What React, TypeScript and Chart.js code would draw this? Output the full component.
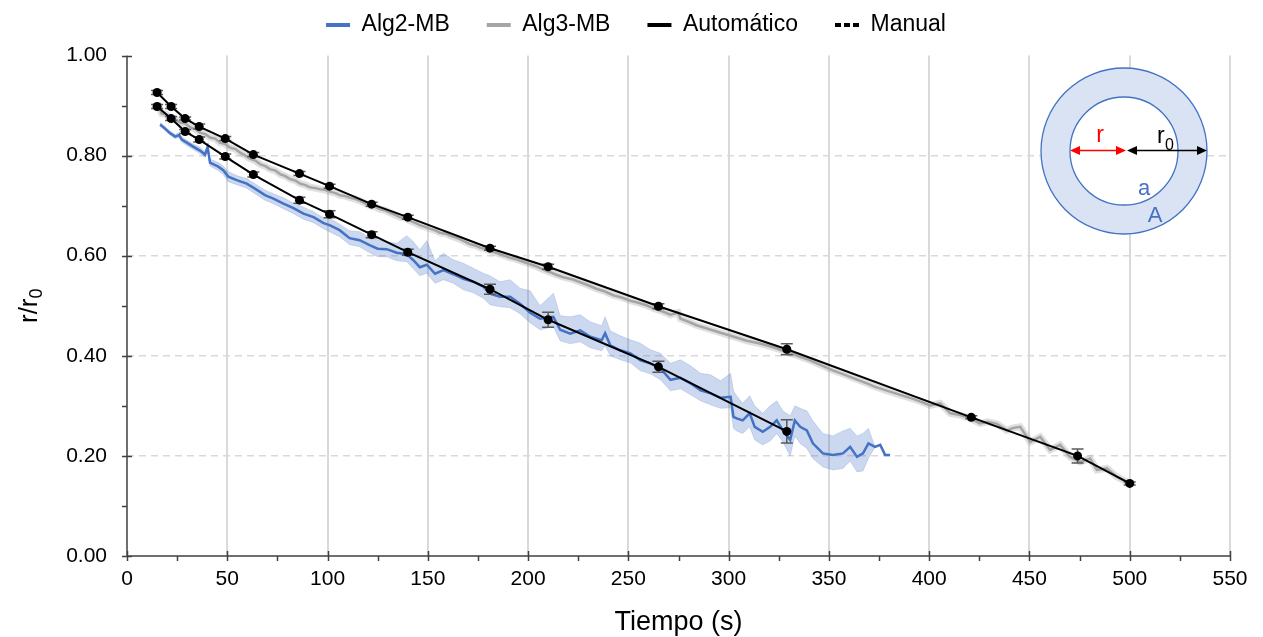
import React, { useEffect, useRef } from 'react';
import { Chart, registerables } from 'chart.js';

Chart.register(...registerables);

const FONT = "'Liberation Sans', Arial, sans-serif";

// ---- Alg2-MB (blue) ----
const alg2X = [16.5, 19, 21.4, 24, 26, 27.3, 29.8, 33, 36.4, 38.9,
  40.2, 41.4, 45.5, 48, 50.5, 54.7, 59.7, 63.8, 68.8, 73,
  78, 83, 88, 93, 98, 101, 106, 111, 116, 121,
  125, 129.5, 134.5, 139.5, 142.8, 146, 149.5, 153.6, 157.8, 162.7,
  167.7, 172.7, 177.7, 181, 186, 191, 196, 201, 206, 212.6,
  216, 221, 226, 231, 236.7, 238.4, 241, 246, 251, 256,
  261, 266, 271, 276, 281, 286, 291, 296, 301, 302.4,
  304, 307, 310.5, 313, 317, 320.7, 324, 327, 330.7, 333,
  335.7, 339, 342, 347, 352, 357, 360.6, 364, 367, 369.7,
  373, 375.6, 378, 380.5];
const alg2Y = [0.862, 0.854, 0.845, 0.838, 0.841, 0.832, 0.826, 0.818, 0.810, 0.802,
  0.817, 0.786, 0.778, 0.771, 0.758, 0.751, 0.744, 0.734, 0.721, 0.714,
  0.704, 0.695, 0.684, 0.677, 0.665, 0.661, 0.651, 0.635, 0.631, 0.621,
  0.614, 0.613, 0.606, 0.603, 0.591, 0.577, 0.582, 0.564, 0.571, 0.563,
  0.554, 0.548, 0.538, 0.524, 0.518, 0.518, 0.504, 0.486, 0.474, 0.478,
  0.452, 0.444, 0.451, 0.438, 0.431, 0.445, 0.421, 0.411, 0.405, 0.391,
  0.385, 0.375, 0.352, 0.356, 0.345, 0.331, 0.325, 0.316, 0.318, 0.278,
  0.275, 0.271, 0.285, 0.258, 0.248, 0.258, 0.271, 0.251, 0.232, 0.271,
  0.258, 0.251, 0.225, 0.205, 0.202, 0.205, 0.218, 0.198, 0.205, 0.225,
  0.218, 0.222, 0.202, 0.202];
const alg2Hi = [0.866, 0.858, 0.849, 0.842, 0.846, 0.837, 0.831, 0.823, 0.816, 0.808,
  0.824, 0.793, 0.786, 0.779, 0.768, 0.760, 0.754, 0.744, 0.731, 0.724,
  0.716, 0.705, 0.697, 0.688, 0.676, 0.675, 0.663, 0.650, 0.648, 0.636,
  0.632, 0.628, 0.625, 0.640, 0.628, 0.612, 0.630, 0.590, 0.605, 0.592,
  0.585, 0.575, 0.565, 0.560, 0.548, 0.552, 0.535, 0.530, 0.500, 0.525,
  0.480, 0.478, 0.482, 0.468, 0.460, 0.478, 0.450, 0.440, 0.432, 0.425,
  0.412, 0.405, 0.385, 0.392, 0.380, 0.365, 0.362, 0.350, 0.365, 0.330,
  0.320, 0.305, 0.320, 0.300, 0.285, 0.300, 0.310, 0.290, 0.280, 0.300,
  0.295, 0.290, 0.270, 0.245, 0.240, 0.250, 0.255, 0.240, 0.245, 0.255,
  0.218, 0.222, 0.202, 0.202];
const alg2Lo = [0.858, 0.850, 0.841, 0.834, 0.836, 0.827, 0.820, 0.812, 0.804, 0.796,
  0.808, 0.779, 0.770, 0.762, 0.748, 0.742, 0.735, 0.724, 0.711, 0.704,
  0.694, 0.684, 0.673, 0.666, 0.654, 0.648, 0.638, 0.622, 0.618, 0.606,
  0.598, 0.598, 0.590, 0.588, 0.574, 0.560, 0.565, 0.545, 0.552, 0.545,
  0.532, 0.526, 0.515, 0.502, 0.498, 0.496, 0.484, 0.466, 0.452, 0.458,
  0.430, 0.424, 0.428, 0.416, 0.410, 0.420, 0.400, 0.392, 0.386, 0.370,
  0.364, 0.352, 0.330, 0.334, 0.322, 0.310, 0.302, 0.295, 0.296, 0.255,
  0.250, 0.245, 0.258, 0.232, 0.222, 0.230, 0.245, 0.228, 0.200, 0.240,
  0.225, 0.215, 0.195, 0.178, 0.172, 0.175, 0.190, 0.168, 0.170, 0.195,
  0.218, 0.222, 0.202, 0.202];

// ---- Alg3-MB (gray) ----
const alg3X = [15, 17.3, 19.5, 21.4, 24, 26.4, 29, 31.4, 34, 36.4,
  39, 41.4, 44, 46.4, 49, 51.4, 54, 56.4, 59, 61.3,
  64, 66.3, 69, 71.3, 74, 76.3, 79, 81.3, 84, 86.3,
  89, 91, 94, 96, 99, 101, 104, 106, 109, 111,
  114, 116, 119, 121, 124, 126, 129, 131, 134, 136,
  139, 141, 144, 146, 149, 151, 154, 156, 159, 161,
  164, 166, 169, 171, 174, 176, 179, 181, 184, 186,
  189, 191, 194, 196, 199, 201, 204, 206, 209, 211,
  214, 217.6, 222, 226, 230, 234, 238, 242.5, 247, 251,
  255, 259, 263, 267.5, 271, 274.8, 276, 280, 284, 288,
  292, 296, 301, 305, 309, 314, 319, 323, 327, 331,
  335.7, 340, 344, 348, 352, 356, 360.6, 365, 369, 373,
  377, 380, 384, 388, 392, 396, 400.5, 405.5, 410.5, 415,
  420.4, 425.4, 429, 433.8, 438.7, 442, 445.4, 450.4, 455.4, 460.3,
  465.3, 470.3, 475.3, 480.3, 483.6, 488.6, 493.6, 498.6];
const alg3Y = [0.905, 0.884, 0.882, 0.876, 0.873, 0.866, 0.864, 0.857, 0.853, 0.846,
  0.843, 0.836, 0.834, 0.826, 0.823, 0.816, 0.813, 0.806, 0.800, 0.794,
  0.790, 0.783, 0.779, 0.773, 0.770, 0.763, 0.759, 0.753, 0.750, 0.744,
  0.741, 0.737, 0.735, 0.733, 0.731, 0.728, 0.725, 0.721, 0.719, 0.716,
  0.713, 0.710, 0.704, 0.700, 0.697, 0.693, 0.690, 0.686, 0.681, 0.677,
  0.675, 0.670, 0.665, 0.661, 0.657, 0.654, 0.650, 0.646, 0.644, 0.640,
  0.636, 0.633, 0.627, 0.623, 0.620, 0.616, 0.613, 0.610, 0.606, 0.603,
  0.599, 0.596, 0.593, 0.590, 0.586, 0.583, 0.579, 0.575, 0.570, 0.567,
  0.562, 0.557, 0.553, 0.547, 0.541, 0.534, 0.529, 0.521, 0.516, 0.510,
  0.506, 0.501, 0.494, 0.488, 0.482, 0.486, 0.474, 0.468, 0.461, 0.456,
  0.451, 0.446, 0.440, 0.435, 0.430, 0.426, 0.421, 0.416, 0.410, 0.405,
  0.398, 0.392, 0.385, 0.378, 0.371, 0.365, 0.358, 0.351, 0.345, 0.338,
  0.333, 0.329, 0.324, 0.319, 0.314, 0.308, 0.301, 0.305, 0.285, 0.282,
  0.275, 0.265, 0.268, 0.264, 0.251, 0.256, 0.258, 0.228, 0.238, 0.212,
  0.222, 0.198, 0.188, 0.195, 0.172, 0.175, 0.158, 0.148];

// ---- Black marker series with error bars ----
const autoX = [15, 22, 29, 36, 49, 63, 86, 101, 122, 140, 181, 210, 265, 329, 421, 474, 500];
const autoY = [0.926, 0.898, 0.874, 0.858, 0.834, 0.802, 0.764, 0.739, 0.703, 0.677, 0.615, 0.578, 0.499, 0.413, 0.277, 0.200, 0.145];
const autoErr = [0.004, 0.004, 0.003, 0.005, 0.004, 0.004, 0.004, 0.004, 0.004, 0.004, 0.004, 0.005, 0.005, 0.011, 0.003, 0.014, 0.003];
const manualX = [15, 22, 29, 36, 49, 63, 86, 101, 122, 140, 181, 210, 265, 329];
const manualY = [0.898, 0.874, 0.848, 0.832, 0.798, 0.762, 0.711, 0.683, 0.642, 0.607, 0.533, 0.472, 0.378, 0.249];
const manualErr = [0.004, 0.004, 0.004, 0.005, 0.005, 0.005, 0.006, 0.007, 0.006, 0.006, 0.010, 0.015, 0.011, 0.023];

const legendNames = ['Alg2-MB', 'Alg3-MB', 'Automático', 'Manual'];
const legendColors = ['#4472C4', '#A5A5A5', '#000000', '#000000'];
const legendDashes = [[], [], [], [6, 3]];

const pts = (xs: number[], ys: number[]) => xs.map((x, i) => ({ x, y: ys[i] }));

const errorBarPlugin = {
  id: 'errorBars',
  beforeDatasetDraw(chart: any, args: any) {
    const ds = chart.data.datasets[args.index];
    if (!ds.errors) return;
    const { ctx, scales: { x, y } } = chart;
    ctx.save();
    ctx.strokeStyle = '#595959';
    ctx.lineWidth = 1.5;
    ds.data.forEach((p: any, i: number) => {
      const e = ds.errors[i];
      const px = x.getPixelForValue(p.x);
      const y1 = y.getPixelForValue(p.y + e);
      const y2 = y.getPixelForValue(p.y - e);
      ctx.beginPath();
      ctx.moveTo(px, y1); ctx.lineTo(px, y2);
      ctx.moveTo(px - 6, y1); ctx.lineTo(px + 6, y1);
      ctx.moveTo(px - 6, y2); ctx.lineTo(px + 6, y2);
      ctx.stroke();
    });
    ctx.restore();
  },
};

const axesPlugin = {
  id: 'axesLines',
  afterDatasetsDraw(chart: any) {
    const { ctx, chartArea: a, scales: { x, y } } = chart;
    ctx.save();
    ctx.strokeStyle = '#404040';
    ctx.lineWidth = 1.5;
    ctx.beginPath();
    ctx.moveTo(a.left, a.top);
    ctx.lineTo(a.left, a.bottom);
    ctx.lineTo(a.right, a.bottom);
    x.ticks.forEach((t: any) => {
      const px = Math.round(x.getPixelForValue(t.value)) + 0.5;
      const major = Math.round(t.value) % 50 === 0;
      ctx.moveTo(px, major ? a.bottom - 5 : a.bottom);
      ctx.lineTo(px, a.bottom + 5);
    });
    y.ticks.forEach((t: any) => {
      const py = Math.round(y.getPixelForValue(t.value)) + 0.5;
      const major = Math.round(t.value * 10) % 2 === 0;
      ctx.moveTo(a.left - 5, py);
      ctx.lineTo(major ? a.left + 5 : a.left, py);
    });
    ctx.stroke();
    ctx.restore();
  },
};

const yTitlePlugin = {
  id: 'yTitle',
  afterDraw(chart: any) {
    const { ctx, chartArea: a } = chart;
    const cy = (a.top + a.bottom) / 2;
    ctx.save();
    ctx.translate(30, cy);
    ctx.rotate(-Math.PI / 2);
    ctx.fillStyle = '#000';
    ctx.textBaseline = 'middle';
    ctx.font = `26px ${FONT}`;
    const w1 = ctx.measureText('r/r').width;
    ctx.font = `18px ${FONT}`;
    const w2 = ctx.measureText('0').width;
    const start = -(w1 + w2) / 2;
    ctx.font = `26px ${FONT}`;
    ctx.fillText('r/r', start, 0);
    ctx.font = `18px ${FONT}`;
    ctx.fillText('0', start + w1, 7);
    ctx.restore();
  },
};

function doubleArrow(ctx: CanvasRenderingContext2D, x1: number, x2: number, yy: number, color: string) {
  const L = 10, H = 4.5;
  ctx.strokeStyle = color;
  ctx.fillStyle = color;
  ctx.lineWidth = 1.5;
  ctx.beginPath();
  ctx.moveTo(x1 + L - 1, yy); ctx.lineTo(x2 - L + 1, yy);
  ctx.stroke();
  ctx.beginPath();
  ctx.moveTo(x1, yy); ctx.lineTo(x1 + L, yy - H); ctx.lineTo(x1 + L, yy + H); ctx.closePath();
  ctx.fill();
  ctx.beginPath();
  ctx.moveTo(x2, yy); ctx.lineTo(x2 - L, yy - H); ctx.lineTo(x2 - L, yy + H); ctx.closePath();
  ctx.fill();
}

const insetPlugin = {
  id: 'inset',
  afterDatasetsDraw(chart: any) {
    const ctx = chart.ctx as CanvasRenderingContext2D;
    const cx = 1124, cy = 151, R = 83, r = 54;
    ctx.save();
    ctx.beginPath();
    ctx.arc(cx, cy, R, 0, Math.PI * 2);
    ctx.fillStyle = '#DAE3F3';
    ctx.fill();
    ctx.strokeStyle = '#4472C4';
    ctx.lineWidth = 1.3;
    ctx.stroke();
    ctx.beginPath();
    ctx.arc(cx, cy, r, 0, Math.PI * 2);
    ctx.fillStyle = '#FFFFFF';
    ctx.fill();
    ctx.stroke();
    doubleArrow(ctx, cx - r, cx + 2, 150.5, '#FF0000');
    doubleArrow(ctx, cx + 3, cx + R, 150.5, '#000000');
    ctx.textAlign = 'center';
    ctx.textBaseline = 'alphabetic';
    ctx.font = `23px ${FONT}`;
    ctx.fillStyle = '#FF0000';
    ctx.fillText('r', 1100, 142);
    ctx.fillStyle = '#000000';
    ctx.textAlign = 'left';
    ctx.fillText('r', 1157, 143);
    ctx.font = `16px ${FONT}`;
    ctx.fillText('0', 1165, 150);
    ctx.textAlign = 'center';
    ctx.font = `22px ${FONT}`;
    ctx.fillStyle = '#4472C4';
    ctx.fillText('a', 1144, 195);
    ctx.fillText('A', 1155, 222);
    ctx.restore();
  },
};

export default function App() {
  const ref = useRef<HTMLCanvasElement>(null);
  useEffect(() => {
    const canvas = ref.current;
    if (!canvas) return;
    const chart = new Chart(canvas, {
      type: 'line',
      data: {
        datasets: [
          { label: 'Automático', data: pts(autoX, autoY), errors: autoErr, borderColor: '#000', borderWidth: 2, pointRadius: 4.5, pointBackgroundColor: '#000', pointBorderColor: '#000', pointBorderWidth: 0, fill: false, order: 1 } as any,
          { label: 'Manual', data: pts(manualX, manualY), errors: manualErr, borderColor: '#000', borderWidth: 2, pointRadius: 4.5, pointBackgroundColor: '#000', pointBorderColor: '#000', pointBorderWidth: 0, fill: false, order: 1 } as any,
          { label: 'Alg2-MB', data: pts(alg2X, alg2Y), borderColor: '#4472C4', borderWidth: 2.5, pointRadius: 0, fill: false, order: 3 },
          { label: 'Alg3-MB', data: pts(alg3X, alg3Y), borderColor: '#A5A5A5', borderWidth: 2.5, pointRadius: 0, fill: false, order: 4 },
          { label: 'Alg3-MB rango', data: pts(alg3X, alg3Y), borderColor: 'rgba(165,165,165,0.35)', borderWidth: 7, pointRadius: 0, fill: false, order: 5 },
          { label: 'Alg2-MB max', data: pts(alg2X, alg2Hi), borderColor: 'rgba(68,114,196,0.2)', borderWidth: 1, backgroundColor: 'rgba(68,114,196,0.28)', pointRadius: 0, fill: '+1', order: 6 },
          { label: 'Alg2-MB min', data: pts(alg2X, alg2Lo), borderColor: 'rgba(68,114,196,0.2)', borderWidth: 1, pointRadius: 0, fill: false, order: 7 },
        ],
      },
      options: {
        responsive: false,
        animation: false,
        devicePixelRatio: 1,
        layout: { padding: { top: -23.5, left: 42, right: 33, bottom: 0 } },
        plugins: {
          legend: {
            position: 'top',
            labels: {
              usePointStyle: true,
              pointStyleWidth: 24,
              padding: 37,
              color: '#000',
              font: { family: FONT, size: 23 },
              generateLabels: () => legendNames.map((t, i) => ({
                text: t,
                fillStyle: legendColors[i],
                strokeStyle: legendColors[i],
                lineWidth: 4,
                lineDash: legendDashes[i],
                lineCap: 'butt',
                pointStyle: 'line',
                hidden: false,
                fontColor: '#000',
                datasetIndex: i,
              })) as any,
            },
          },
          title: { display: true, text: '', weight: 500, padding: 0, font: { size: 7.5, lineHeight: 1.2 } } as any,
          tooltip: { enabled: false },
        },
        scales: {
          x: {
            type: 'linear',
            min: 0,
            max: 550,
            afterFit: (s: any) => { s.height = 81; },
            border: { display: false },
            grid: {
              drawTicks: false,
              lineWidth: 2,
              color: (c: any) => (c.tick && Math.round(c.tick.value) % 50 === 0 && c.tick.value > 0 ? '#D9D9D9' : 'rgba(0,0,0,0)'),
            },
            ticks: {
              stepSize: 25,
              autoSkip: false,
              maxRotation: 0,
              padding: 11,
              color: '#000',
              font: { family: FONT, size: 21 },
              callback: (v: any) => (Math.round(Number(v)) % 50 === 0 ? String(Math.round(Number(v))) : ''),
            },
            title: { display: true, text: 'Tiempo (s)', color: '#000', font: { family: FONT, size: 27 }, padding: { top: 0, bottom: -2 } },
          },
          y: {
            min: 0,
            max: 1,
            afterFit: (s: any) => { s.width = 85; },
            border: { display: false, dash: [7, 5] },
            grid: {
              drawTicks: false,
              lineWidth: 1.5,
              color: (c: any) => {
                if (!c.tick) return 'rgba(0,0,0,0)';
                const k = Math.round(c.tick.value * 10);
                return k % 2 === 0 && k > 0 && k < 10 ? '#D9D9D9' : 'rgba(0,0,0,0)';
              },
            },
            ticks: {
              stepSize: 0.1,
              padding: 20,
              color: '#000',
              font: { family: FONT, size: 21 },
              callback: (v: any) => {
                const k = Math.round(Number(v) * 10);
                return k % 2 === 0 ? (k / 10).toFixed(2) : '';
              },
            },
          },
        },
      },
      plugins: [errorBarPlugin, axesPlugin, yTitlePlugin, insetPlugin],
    });
    return () => chart.destroy();
  }, []);
  return (
    <div style={{ position: 'absolute', left: 0, top: 0, width: 1263, height: 637 }}>
      <canvas ref={ref} width={1263} height={637} style={{ display: 'block' }} />
    </div>
  );
}
